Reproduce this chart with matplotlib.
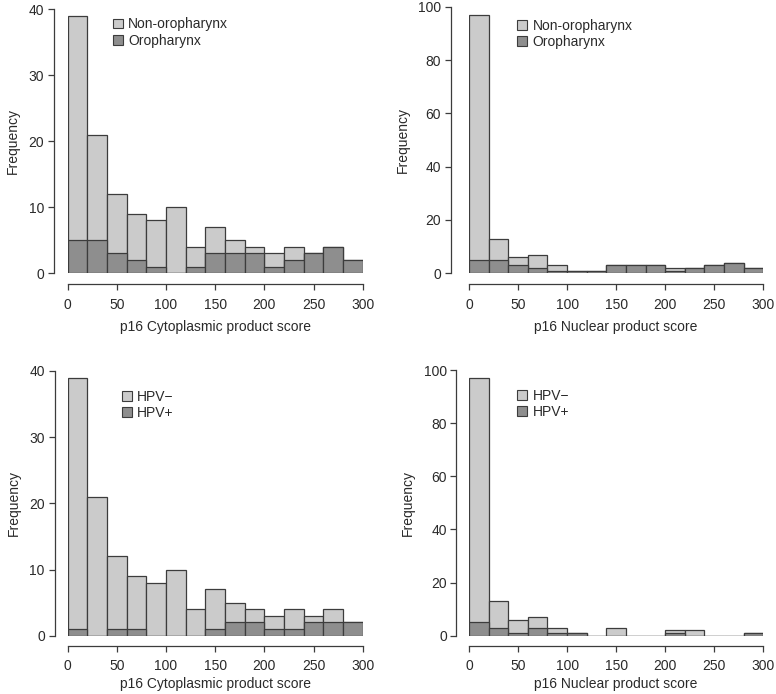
import matplotlib
matplotlib.use("Agg")
import matplotlib.pyplot as plt
from matplotlib.patches import Patch
import numpy as np

plt.rcParams["font.family"] = ["Liberation Sans", "DejaVu Sans"]

# ── Data (bin counts, bins of width 20 from 0 to 300) ─────────────────────
bin_edges = np.arange(0, 320, 20)

cyto_non_oro = [39, 21, 12, 9, 8, 10, 4, 7, 5, 4, 3, 4, 3, 4, 2]
cyto_oro     = [5, 5, 3, 2, 1, 0, 1, 3, 3, 3, 1, 2, 3, 4, 2]
nuc_non_oro  = [97, 13, 6, 7, 3, 1, 1, 3, 3, 3, 2, 2, 3, 4, 2]
nuc_oro      = [5, 5, 3, 2, 1, 1, 1, 3, 3, 3, 1, 2, 3, 4, 2]

cyto_hpv_neg = [39, 21, 12, 9, 8, 10, 4, 7, 5, 4, 3, 4, 3, 4, 2]
cyto_hpv_pos = [1, 0, 1, 1, 0, 0, 0, 1, 2, 2, 1, 1, 2, 2, 2]
nuc_hpv_neg  = [97, 13, 6, 7, 3, 1, 0, 3, 0, 0, 2, 2, 0, 0, 1]
nuc_hpv_pos  = [5, 3, 1, 3, 1, 1, 0, 0, 0, 0, 1, 0, 0, 0, 1]

x_ticks = [0, 50, 100, 150, 200, 250, 300]

C_LIGHT = "#cbcbcb"
C_DARK  = "#8e8e8e"
C_EDGE  = "#3c3c3c"
C_TEXT  = "#2a2a2a"

W, H = 776, 694
fig = plt.figure(figsize=(W / 100, H / 100), dpi=100)


def px_axes(x0, x1, y_top, y_bot):
    """Axes from pixel coords of the data region (x=0..300, y=0..ymax)."""
    return fig.add_axes([x0 / W, (H - y_bot) / H, (x1 - x0) / W, (y_bot - y_top) / H])


def panel(ax, light, dark, labels, xlabel, ymax, yticks, yoff, xoff, leg_xy,
          xpad=6, xlabelpad=6):
    ax.bar(bin_edges[:-1], light, width=20, align="edge", color=C_LIGHT,
           edgecolor=C_EDGE, linewidth=0.9, zorder=2)
    ax.bar(bin_edges[:-1], dark, width=20, align="edge", color=C_DARK,
           edgecolor=C_EDGE, linewidth=0.9, zorder=3)
    ax.set_xlim(0, 300)
    ax.set_ylim(0, ymax)
    for s in ("top", "right"):
        ax.spines[s].set_visible(False)
    ax.spines["left"].set_position(("outward", yoff))
    ax.spines["bottom"].set_position(("outward", xoff))
    ax.spines["left"].set_bounds(0, ymax)
    ax.spines["bottom"].set_bounds(0, 300)
    for s in ("left", "bottom"):
        ax.spines[s].set_color(C_EDGE)
        ax.spines[s].set_linewidth(0.9)
    ax.set_xticks(x_ticks)
    ax.set_yticks(yticks)
    ax.tick_params(axis="x", length=4, width=0.9, color=C_EDGE, pad=xpad,
                   labelsize=10, labelcolor=C_TEXT)
    ax.tick_params(axis="y", length=4, width=0.9, color=C_EDGE, pad=3,
                   labelsize=10, labelcolor=C_TEXT)
    ax.set_xlabel(xlabel, fontsize=10, color=C_TEXT, labelpad=xlabelpad)
    ax.set_ylabel("Frequency", fontsize=10, color=C_TEXT, labelpad=6)
    handles = [Patch(facecolor=C_LIGHT, edgecolor=C_EDGE, linewidth=0.8),
               Patch(facecolor=C_DARK, edgecolor=C_EDGE, linewidth=0.8)]
    ax.legend(handles, labels, loc="upper left", bbox_to_anchor=leg_xy,
              frameon=False, fontsize=10, handlelength=0.7, handleheight=0.7,
              handletextpad=0.4, labelspacing=0.15, borderaxespad=0,
              labelcolor=C_TEXT)


ax1 = px_axes(67.7, 362.7, 9.3, 273.3)
panel(ax1, cyto_non_oro, cyto_oro, ["Non-oropharynx", "Oropharynx"],
      "p16 Cytoplasmic product score", 40, [0, 10, 20, 30, 40],
      10, 7.5, (0.135, 0.99))

ax2 = px_axes(469, 763.3, 6.7, 273.3)
panel(ax2, nuc_non_oro, nuc_oro, ["Non-oropharynx", "Oropharynx"],
      "p16 Nuclear product score", 100, [0, 20, 40, 60, 80, 100],
      13, 7.5, (0.145, 0.975))

ax3 = px_axes(67.7, 362.7, 371, 635.7)
panel(ax3, cyto_hpv_neg, cyto_hpv_pos, ["HPV\u2212", "HPV+"],
      "p16 Cytoplasmic product score", 40, [0, 10, 20, 30, 40],
      9.5, 7.5, (0.165, 0.95), xpad=5, xlabelpad=3)

ax4 = px_axes(469, 763.3, 370, 635.7)
panel(ax4, nuc_hpv_neg, nuc_hpv_pos, ["HPV\u2212", "HPV+"],
      "p16 Nuclear product score", 100, [0, 20, 40, 60, 80, 100],
      9, 7.5, (0.145, 0.95), xpad=5, xlabelpad=3)

fig.savefig("out.png", dpi=100)
plt.close(fig)
